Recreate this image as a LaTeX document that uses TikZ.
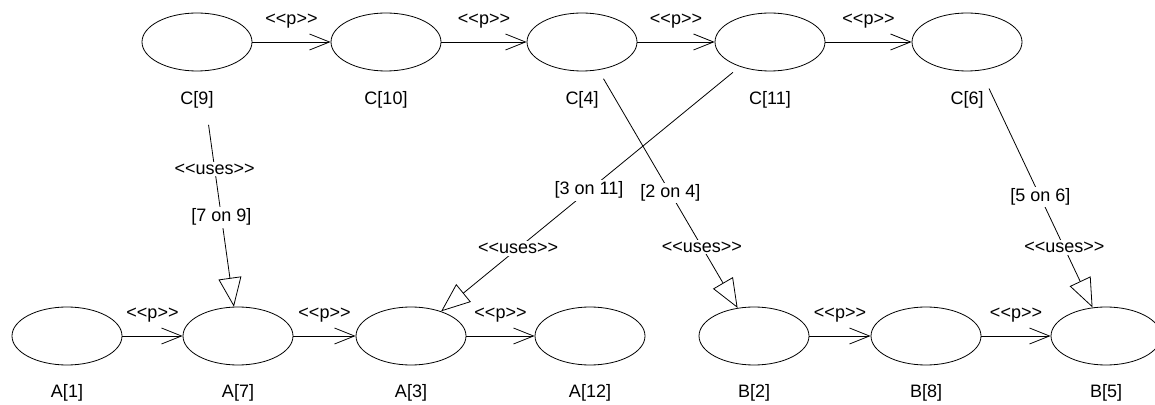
\documentclass[tikz,border=0pt]{standalone}
\usepackage{fontspec}
\newfontfamily\umlfont{Liberation Sans}
\usetikzlibrary{shapes.geometric,arrows.meta}

\begin{document}
\begin{tikzpicture}[x=0.5pt,y=-0.5pt,
	every node/.style={font=\umlfont\fontsize{9}{11}\selectfont},
	obj/.style={draw,ellipse,minimum width=55pt,minimum height=29pt,inner sep=0pt},
	pfeil/.style={-{Straight Barb[length=10pt,width=8pt]}},
	uses/.style={-{Triangle[open,length=14.5pt,width=11.5pt]}},
	tag/.style={fill=white,inner sep=1pt}]
	\useasboundingbox (0,0) rectangle (1155,405);
	% Knoten oben
	\foreach \n/\x in {9/197,10/386,4/582,11/770,6/967}{
		\node[obj] (c\n) at (\x,42) {};
		\node (c\n l) at (\x,100) {C[\n]};
	}
	% Knoten unten
	\foreach \n/\x in {1/67,7/238,3/411,12/590}{
		\node[obj] (a\n) at (\x,336) {};
		\node (a\n l) at (\x,393) {A[\n]};
	}
	\foreach \n/\x in {2/754,8/926,5/1106}{
		\node[obj] (b\n) at (\x,336) {};
		\node (b\n l) at (\x,393) {B[\n]};
	}
	% <<p>> Pfeile
	\foreach \s/\t in {c9/c10,c10/c4,c4/c11,c11/c6,a1/a7,a7/a3,a3/a12,b2/b8,b8/b5}
		\draw[pfeil] (\s) -- node[yshift=10.5pt] {<<p>>} (\t);
	% <<uses>> Pfeile
	\draw[uses,shorten <=27pt] (c9) -- node[tag,pos=.415] {<<uses>>} node[tag,pos=.62] {[7 on 9]} (a7);
	\draw[uses,shorten <=4.5pt] (c11) -- node[tag,pos=.505] {[3 on 11]} node[tag,pos=.742] {<<uses>>} (a3);
	\draw[uses,shorten <=5pt] (c4) -- node[tag,pos=.517] {[2 on 4]} node[tag,pos=.744] {<<uses>>} (b2);
	\draw[uses,shorten <=10pt] (c6) -- node[tag,pos=.534] {[5 on 6]} node[tag,pos=.748] {<<uses>>} (b5);
\end{tikzpicture}
\end{document}
